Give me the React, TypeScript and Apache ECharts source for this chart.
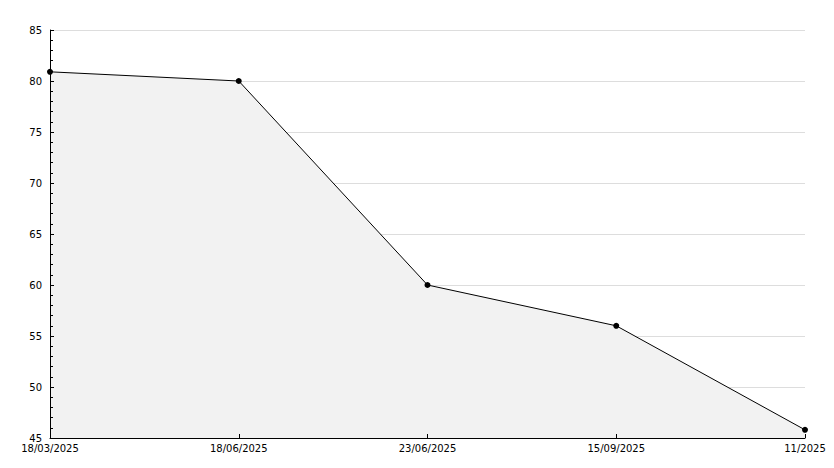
import React, { useEffect, useRef } from "react";
import * as echarts from "echarts";

const categories = ["18/03/2025", "18/06/2025", "23/06/2025", "15/09/2025", "11/2025"];
const values = [80.9, 80, 60, 56, 45.8];
const yMin = 45;
const yMax = 85;
const yInterval = 5;

export default function App() {
  const ref = useRef<HTMLDivElement>(null);
  useEffect(() => {
    document.body.style.margin = "0";
    const chart = echarts.init(ref.current!, null, { renderer: "svg" });
    const labelStyle = { color: "#000", fontFamily: "DejaVu Sans", fontSize: 10 };
    chart.setOption({
      animation: false,
      backgroundColor: "#fff",
      grid: { left: 50, right: 29, top: 30, bottom: 30, containLabel: false },
      xAxis: {
        type: "category",
        data: categories,
        boundaryGap: false,
        z: 10,
        axisLine: { lineStyle: { color: "#000", width: 1 } },
        axisTick: { inside: true, length: 4, alignWithLabel: true, lineStyle: { color: "#000" } },
        axisLabel: { ...labelStyle, margin: 5, interval: 0, showMinLabel: true, showMaxLabel: true },
        splitLine: { show: false },
      },
      yAxis: [
        {
          type: "value",
          min: yMin,
          max: yMax,
          interval: yInterval,
          z: 0,
          axisLine: { show: false },
          axisTick: { show: false },
          axisLabel: { show: false },
          splitLine: { show: true, lineStyle: { color: "#dddddd", width: 1 } },
        },
        {
          type: "value",
          position: "left",
          min: yMin,
          max: yMax,
          interval: yInterval,
          z: 10,
          axisLine: { show: true, lineStyle: { color: "#000", width: 1 } },
          axisTick: { show: true, inside: true, length: 4, lineStyle: { color: "#000" } },
          minorTick: { show: true, splitNumber: 5, length: 3, lineStyle: { color: "#000" } },
          axisLabel: { ...labelStyle, margin: 8 },
          splitLine: { show: false },
        },
      ],
      series: [
        {
          type: "line",
          yAxisIndex: 0,
          data: values,
          symbol: "circle",
          symbolSize: 6,
          itemStyle: { color: "#000" },
          lineStyle: { color: "#000", width: 1 },
          areaStyle: { color: "#f2f2f2", opacity: 1 },
          z: 2,
        },
      ],
    });
    return () => chart.dispose();
  }, []);
  return <div ref={ref} style={{ width: 834, height: 468, position: "absolute", left: 0, top: 0 }} />;
}
